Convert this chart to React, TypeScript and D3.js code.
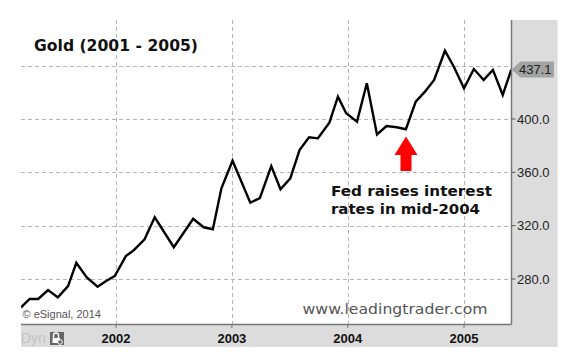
import React from "react";
import * as d3 from "d3";

const dates = [
  "2001-03-08","2001-04-04","2001-05-01","2001-06-01","2001-07-02","2001-08-03","2001-08-29","2001-10-01","2001-11-04","2001-12-02","2001-12-28",
  "2002-02-01","2002-02-24","2002-04-01","2002-05-03","2002-07-02","2002-09-01","2002-10-04","2002-11-02","2002-11-29",
  "2003-01-03","2003-02-28","2003-03-30","2003-05-05","2003-06-03","2003-07-04","2003-08-02","2003-09-01","2003-09-29","2003-11-04","2003-12-01","2003-12-27",
  "2004-01-30","2004-03-01","2004-04-02","2004-05-02","2004-06-03","2004-07-02","2004-08-02","2004-08-31","2004-09-29","2004-11-02","2004-11-30",
  "2005-01-01","2005-02-01","2005-03-04","2005-04-02","2005-05-03","2005-05-30",
];
const prices = [
  258.7,265,265,271.7,266.2,274.7,292.2,281.2,274.2,278.7,282.2,
  297.2,301.2,309.8,326.3,303.8,325.2,318.8,317.3,348,
  368.7,337.2,340.7,364.7,347.3,355.5,376.7,386.3,385.5,397.2,416.7,404.3,
  398,426.8,388.4,394.7,393.8,392.3,413,420.5,429.3,451.2,439.2,
  423,437.5,429.3,436.8,418,437.1,
];
const yTicks = [280, 320, 360, 400];
const yGrid = [280, 320, 360, 400, 440];
const xTickYears = ["2002", "2003", "2004", "2005"];
const lastPrice = 437.1;
const title = "Gold (2001 - 2005)";
const noteLines = ["Fed raises interest", "rates in mid-2004"];

const W = 567, H = 355;
const plotL = 21, plotR = 511.5, plotT = 20, plotB = 324;

export default function App() {
  const parse = d3.timeParse("%Y-%m-%d");
  const x = d3.scaleTime()
    .domain([parse("2002-01-01")!, parse("2005-01-01")!])
    .range([116, 464]);
  const y = d3.scaleLinear().domain([246.25, 474.25]).range([plotB, plotT]);
  const data = dates.map((d, i) => ({ d: parse(d)!, v: prices[i] }));
  const line = d3.line<{ d: Date; v: number }>().x(p => x(p.d)).y(p => y(p.v));
  const yLast = y(lastPrice);
  const axisFont = "'Liberation Sans', Arial, sans-serif";
  const boldFont = "'DejaVu Sans', Verdana, sans-serif";

  return (
    <svg width={W} height={H} style={{ position: "absolute", left: 0, top: 0, background: "#fff" }}>
      <defs>
        <clipPath id="plotClip">
          <rect x={plotL} y={plotT} width={plotR - plotL} height={plotB - plotT} />
        </clipPath>
      </defs>
      <rect x={0} y={0} width={W} height={H} fill="#fff" />
      {/* gray panels */}
      <rect x={plotR} y={plotT} width={557.5 - plotR} height={347 - plotT} fill="#dcdcdc" />
      <rect x={plotL} y={plotB} width={557.5 - plotL} height={347 - plotB} fill="#dcdcdc" />
      {/* grid */}
      {yGrid.map(v => (
        <line key={"hg" + v} x1={plotL} x2={plotR} y1={Math.round(y(v)) + 0.5} y2={Math.round(y(v)) + 0.5}
          stroke="#b4b4b4" strokeDasharray="4,3" strokeWidth={1} />
      ))}
      {xTickYears.map(yr => {
        const xx = Math.round(x(parse(yr + "-01-01")!)) + 0.5;
        return (
          <line key={"vg" + yr} x1={xx} x2={xx} y1={plotT} y2={plotB}
            stroke="#b4b4b4" strokeDasharray="4,3" strokeWidth={1} />
        );
      })}
      {/* price line */}
      <path d={line(data) || ""} fill="none" stroke="#000" strokeWidth={2.4}
        strokeLinejoin="miter" clipPath="url(#plotClip)" />
      {/* borders */}
      <line x1={plotL} x2={plotR} y1={plotB + 0.5} y2={plotB + 0.5} stroke="#777" strokeWidth={1.5} />
      <line x1={plotR} x2={plotR} y1={plotT} y2={plotB} stroke="#777" strokeWidth={1.5} />
      {/* y axis */}
      {yTicks.map(v => (
        <g key={"yt" + v}>
          <line x1={plotR} x2={plotR + 4} y1={y(v)} y2={y(v)} stroke="#555" />
          <text x={517} y={y(v)} dy="0.35em" fontFamily={axisFont} fontSize={13} fill="#222">
            {v.toFixed(1)}
          </text>
        </g>
      ))}
      {/* last price tag */}
      <path d={`M${plotR},${yLast} L${plotR + 9},${yLast - 8} L554,${yLast - 8} L554,${yLast + 8} L${plotR + 9},${yLast + 8} Z`}
        fill="#a3a3a3" />
      <text x={519} y={yLast} dy="0.35em" fontFamily={axisFont} fontSize={13} fill="#222">
        {lastPrice.toFixed(1)}
      </text>
      {/* x axis */}
      {xTickYears.map(yr => {
        const xx = x(parse(yr + "-01-01")!);
        return (
          <g key={"xt" + yr}>
            <line x1={xx} x2={xx} y1={plotB} y2={plotB + 4} stroke="#777" />
            <text x={xx} y={343} textAnchor="middle" fontFamily={axisFont} fontWeight="bold" fontSize={13} fill="#111">
              {yr}
            </text>
          </g>
        );
      })}
      <text x={21} y={343} fontFamily={axisFont} fontSize={14} fill="#c4c4c4">Dyn</text>
      <rect x={50} y={332} width={14} height={13} fill="#666" />
      <path d="M53.5,338 L53.5,335.5 A2.5,2.5 0 0 1 58.5,335.5 L58.5,338" fill="none" stroke="#fff" strokeWidth={1.4} />
      <rect x={52.5} y={338} width={7.5} height={5} fill="#fff" />
      <circle cx={60} cy={342} r={2.3} fill="#666" stroke="#fff" strokeWidth={1} />
      {/* texts */}
      <text x={34} y={51} fontFamily={boldFont} fontWeight="bold" fontSize={15} fill="#111" textLength={164} lengthAdjust="spacingAndGlyphs">
        {title}
      </text>
      <text x={22.5} y={318} fontFamily={axisFont} fontSize={11} fill="#555">© eSignal, 2014</text>
      <text x={302.5} y={313.5} fontFamily={boldFont} fontSize={14} fill="#555" textLength={185} lengthAdjust="spacingAndGlyphs">
        www.leadingtrader.com
      </text>
      {noteLines.map((t, i) => (
        <text key={t} x={331} y={196 + i * 18} fontFamily={boldFont} fontWeight="bold" fontSize={14} fill="#111"
          textLength={i === 0 ? 161 : 149} lengthAdjust="spacingAndGlyphs">
          {t}
        </text>
      ))}
      {/* red arrow */}
      <path d="M406,136.5 L417.5,155 L411.5,155 L411.5,171 L400.5,171 L400.5,155 L394.5,155 Z" fill="#ff0000" />
    </svg>
  );
}
